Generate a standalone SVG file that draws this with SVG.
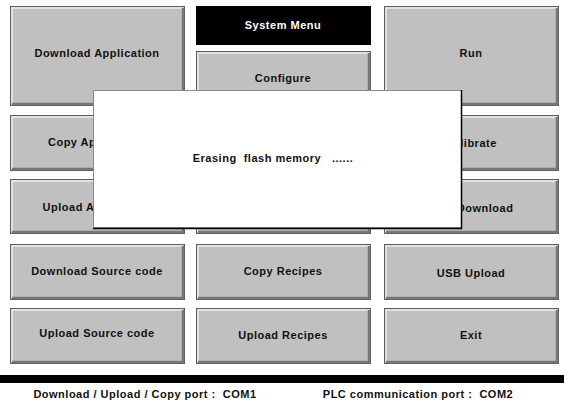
<svg xmlns="http://www.w3.org/2000/svg" width="564" height="405" viewBox="0 0 564 405">
  <style>
    .btn rect.face { fill: #c0c0c0; stroke: #5e5e5e; stroke-width: 1; }
    .btn .hi { stroke: #ececec; stroke-width: 1.5; fill: none; }
    .btn .lo { stroke: #777777; stroke-width: 2.5; fill: none; }
    text { font-family: "Liberation Sans", Arial, sans-serif; font-weight: bold; font-size: 11px; letter-spacing: 0.5px; fill: #111; text-anchor: middle; }
    .title text { fill: #ffffff; }
  </style>
  <rect x="0" y="0" width="564" height="405" fill="#ffffff"/>

  <!-- left column -->
  <g id="download-application" class="btn">
    <rect class="face" x="10.5" y="6.5" width="174" height="99"/>
    <polyline class="hi" points="12,104 12,8 183,8"/>
    <polyline class="lo" points="183,8 183,104 12,104"/>
    <text x="97" y="57">Download Application</text>
  </g>
  <g id="copy-application" class="btn">
    <rect class="face" x="10.5" y="115.5" width="174" height="55"/>
    <polyline class="hi" points="12,169 12,117 183,117"/>
    <polyline class="lo" points="183,117 183,169 12,169"/>
    <text x="97" y="146">Copy Application</text>
  </g>
  <g id="upload-application" class="btn">
    <rect class="face" x="10.5" y="179.5" width="174" height="54"/>
    <polyline class="hi" points="12,232 12,181 183,181"/>
    <polyline class="lo" points="183,181 183,232 12,232"/>
    <text x="97" y="211">Upload Application</text>
  </g>
  <g id="download-source-code" class="btn">
    <rect class="face" x="10.5" y="244.5" width="174" height="55"/>
    <polyline class="hi" points="12,298 12,246 183,246"/>
    <polyline class="lo" points="183,246 183,298 12,298"/>
    <text x="97" y="275">Download Source code</text>
  </g>
  <g id="upload-source-code" class="btn">
    <rect class="face" x="10.5" y="308.5" width="174" height="55"/>
    <polyline class="hi" points="12,362 12,310 183,310"/>
    <polyline class="lo" points="183,310 183,362 12,362"/>
    <text x="97" y="337">Upload Source code</text>
  </g>

  <!-- middle column -->
  <g id="system-menu" class="title">
    <rect x="196" y="6" width="175" height="39" fill="#000000"/>
    <text x="283" y="29">System Menu</text>
  </g>
  <g id="configure" class="btn">
    <rect class="face" x="196.5" y="51.5" width="174" height="54"/>
    <polyline class="hi" points="198,104 198,53 369,53"/>
    <polyline class="lo" points="369,53 369,104 198,104"/>
    <text x="283" y="82">Configure</text>
  </g>
  <g id="middle-row-2" class="btn">
    <rect class="face" x="196.5" y="115.5" width="174" height="55"/>
    <polyline class="hi" points="198,169 198,117 369,117"/>
    <polyline class="lo" points="369,117 369,169 198,169"/>
  </g>
  <g id="middle-row-3" class="btn">
    <rect class="face" x="196.5" y="179.5" width="174" height="54"/>
    <polyline class="hi" points="198,232 198,181 369,181"/>
    <polyline class="lo" points="369,181 369,232 198,232"/>
  </g>
  <g id="copy-recipes" class="btn">
    <rect class="face" x="196.5" y="244.5" width="174" height="55"/>
    <polyline class="hi" points="198,298 198,246 369,246"/>
    <polyline class="lo" points="369,246 369,298 198,298"/>
    <text x="283" y="275">Copy Recipes</text>
  </g>
  <g id="upload-recipes" class="btn">
    <rect class="face" x="196.5" y="308.5" width="174" height="55"/>
    <polyline class="hi" points="198,362 198,310 369,310"/>
    <polyline class="lo" points="369,310 369,362 198,362"/>
    <text x="283" y="339">Upload Recipes</text>
  </g>

  <!-- right column -->
  <g id="run" class="btn">
    <rect class="face" x="384.5" y="6.5" width="174" height="99"/>
    <polyline class="hi" points="386,104 386,8 557,8"/>
    <polyline class="lo" points="557,8 557,104 386,104"/>
    <text x="471" y="57">Run</text>
  </g>
  <g id="calibrate" class="btn">
    <rect class="face" x="384.5" y="115.5" width="174" height="55"/>
    <polyline class="hi" points="386,169 386,117 557,117"/>
    <polyline class="lo" points="557,117 557,169 386,169"/>
    <text x="471" y="147">Calibrate</text>
  </g>
  <g id="usb-download" class="btn">
    <rect class="face" x="384.5" y="179.5" width="174" height="54"/>
    <polyline class="hi" points="386,232 386,181 557,181"/>
    <polyline class="lo" points="557,181 557,232 386,232"/>
    <text x="471" y="212">USB Download</text>
  </g>
  <g id="usb-upload" class="btn">
    <rect class="face" x="384.5" y="244.5" width="174" height="55"/>
    <polyline class="hi" points="386,298 386,246 557,246"/>
    <polyline class="lo" points="557,246 557,298 386,298"/>
    <text x="471" y="277">USB Upload</text>
  </g>
  <g id="exit" class="btn">
    <rect class="face" x="384.5" y="308.5" width="174" height="55"/>
    <polyline class="hi" points="386,362 386,310 557,310"/>
    <polyline class="lo" points="557,310 557,362 386,362"/>
    <text x="471" y="339">Exit</text>
  </g>

  <!-- progress dialog -->
  <g id="erasing-dialog">
    <rect x="93.5" y="90.5" width="368" height="137" fill="#ffffff" stroke="#8a8a8a" stroke-width="1"/>
    <polyline points="461.5,90 461.5,228.5 93,228.5" fill="none" stroke="#000000" stroke-width="1.5"/>
    <text x="273" y="162" xml:space="preserve">Erasing  flash memory   ......</text>
  </g>

  <!-- status bar -->
  <g id="status-bar">
    <rect x="0" y="375" width="564" height="8" fill="#000000"/>
    <text x="145" y="398" xml:space="preserve">Download / Upload / Copy port :  COM1</text>
    <text x="418" y="398" xml:space="preserve">PLC communication port :  COM2</text>
  </g>
</svg>
